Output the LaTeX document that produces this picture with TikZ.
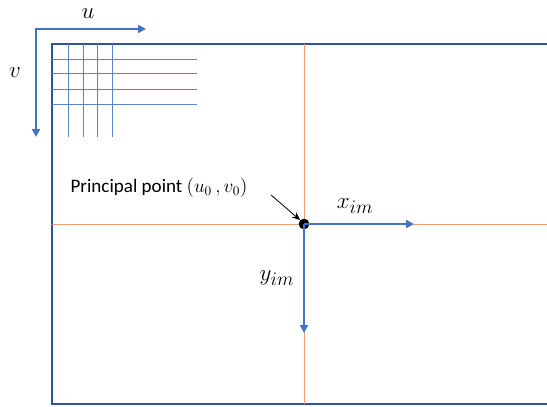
\documentclass[tikz,border=0pt]{standalone}
\usepackage{amsmath,amssymb}
\usepackage{fontspec}
\setmainfont{Carlito}
\usepackage{xcolor}
\usepackage{tikz}
\usetikzlibrary{positioning,arrows.meta,calc}
\definecolor{CAMblue}{HTML}{4472C4}
\definecolor{CAMframe}{HTML}{2F5597}
\definecolor{CAMgrid}{HTML}{5B83C9}
\definecolor{CAMorange}{HTML}{F0A070}
\tikzset{
  axisarr/.style={-{Triangle[length=6pt,width=6pt]}, line width=1.5pt, draw=CAMblue},
  framebox/.style={line width=1.6pt, draw=CAMframe},
  gridline/.style={line width=0.6pt, draw=CAMgrid},
  centerline/.style={line width=0.45pt, draw=CAMorange},
  pointarr/.style={-{Stealth[length=6pt,width=5pt]}, line width=0.6pt, draw=black},
  mathlabel/.style={font=\fontsize{19}{22}\selectfont, inner sep=1pt},
  textlabel/.style={font=\fontsize{14.3}{17}\selectfont, inner sep=1pt}
}

\begin{document}
\begin{tikzpicture}[x=0.75pt, y=-0.75pt]
      \useasboundingbox (0,0) rectangle (547,407);
      % image frame, open to the right
      \draw[framebox] (560,44) -- (52,44) -- (52,404) -- (560,404);
      % pixel grid in the corner
      \foreach \gx in {68,83,97,112}
        \draw[gridline] (\gx,44) -- (\gx,137);
      \foreach \gy in {59,73,89,104}
        \draw[gridline] (52,\gy) -- (197,\gy);
      % optical axis cross lines
      \draw[centerline] (304,44) -- (304,404);
      \draw[centerline] (52,224) -- (547,224);
      % pixel axes u, v
      \coordinate (O) at (36,29);
      \coordinate (uend) at (146,29);
      \coordinate (vend) at (36,137);
      \draw[axisarr] ($(O)+(-0.75,0)$) -- (uend);
      \draw[axisarr] (O) -- (vend);
      \node[mathlabel, anchor=base] (ulab) at (88,18) {\(u\)};
      \node[mathlabel, anchor=base] (vlab) at (15,77) {\(v\)};
      % principal point and image axes
      \node[circle, fill=black, inner sep=0pt, minimum size=8pt] (pp) at (304,224) {};
      \coordinate (xend) at (414,224);
      \coordinate (yend) at (304,333);
      \draw[axisarr] (pp.center) -- (xend);
      \draw[axisarr] (pp.center) -- (yend);
      \node[mathlabel] (xlab) at (355,206) {\(x_{im}\)};
      \node[mathlabel] (ylab) at (277,278) {\(y_{im}\)};
      \node[textlabel] (pplab) at (159,188) {Principal point \((u_0\,, v_0)\)};
      \coordinate (ppfrom) at (271,195);
      \draw[pointarr] (ppfrom) -- (pp.north west);
    \end{tikzpicture}
\end{document}
